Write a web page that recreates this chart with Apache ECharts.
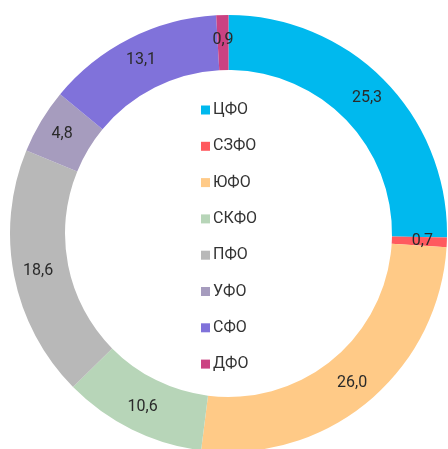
<!DOCTYPE html>
<html><head><meta charset="utf-8">
<script src="https://cdn.jsdelivr.net/npm/echarts@6/dist/echarts.min.js"></script>
<style>html,body{margin:0;padding:0;background:#fff}#c{width:448px;height:449px}</style>
</head><body><div id="c"></div>
<script>
const categories = ['ЦФО','СЗФО','ЮФО','СКФО','ПФО','УФО','СФО','ДФО'];
const values = [25.3, 0.7, 26.0, 10.6, 18.6, 4.8, 13.1, 0.9];
const colors = ['#00B9EE','#FF5A5F','#FFCA87','#B7D5B8','#B8B8B8','#A69CBE','#8072DA','#CB4282'];

const chart = echarts.init(document.getElementById('c'), null, {renderer:'canvas'});
chart.setOption({
  animation: false,
  color: colors,
  legend: {
    orient: 'vertical',
    left: 201, top: 102,
    padding: 0,
    icon: 'rect',
    itemWidth: 9, itemHeight: 9,
    itemGap: 20.3,
    textStyle: {fontFamily: 'Roboto', fontSize: 16, color: '#333', lineHeight: 16, padding:[0,0,0,-2]},
    data: categories
  },
  series: [{
    type: 'pie',
    center: [228.5, 233.5],
    radius: [163.5, 218.5],
    startAngle: 90,
    clockwise: true,
    avoidLabelOverlap: false,
    label: {
      show: true, position: 'inside',
      fontFamily: 'Roboto', fontSize: 16, color: '#2a2a2a',
      formatter: p => p.value.toFixed(1).replace('.', ',')
    },
    labelLine: {show: false},
    emphasis: {disabled: true},
    data: categories.map((n, i) => ({name: n, value: values[i]}))
  }]
});
</script></body></html>
